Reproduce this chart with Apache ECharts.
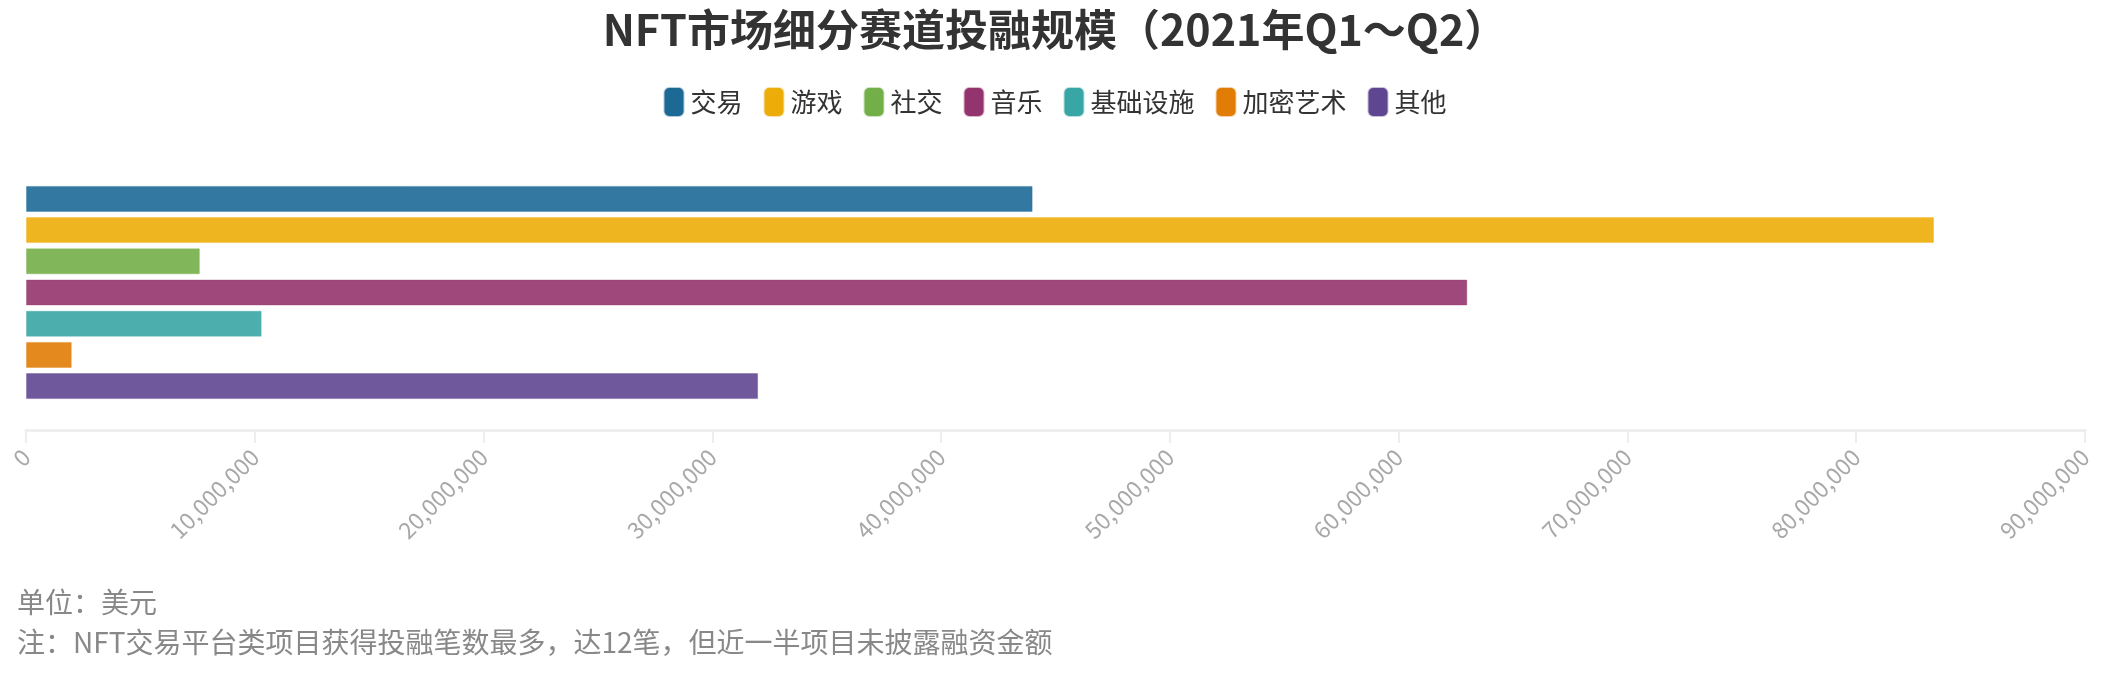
<!DOCTYPE html>
<html>
<head>
<meta charset="utf-8">
<script src="https://cdn.jsdelivr.net/npm/echarts@6/dist/echarts.min.js"></script>
<style>
html,body{margin:0;padding:0;background:#fff;}
#chart{width:2110px;height:699px;}
</style>
</head>
<body>
<div id="chart"></div>
<script>
const titleText = 'NFT市场细分赛道投融规模（2021年Q1～Q2）';
const categories = ['Q1～Q2'];
const seriesNames = ['交易', '游戏', '社交', '音乐', '基础设施', '加密艺术', '其他'];
const seriesValues = [44000000, 83400000, 7600000, 63000000, 10300000, 2000000, 32000000];
const seriesColors = ['#1D6996', '#EDAD08', '#73AF48', '#94346E', '#38A6A5', '#E17C05', '#5F4690'];
const xTicks = [0, 10000000, 20000000, 30000000, 40000000, 50000000, 60000000, 70000000, 80000000, 90000000];
const unitNote = '单位：美元';
const footNote = '注：NFT交易平台类项目获得投融笔数最多，达12笔，但近一半项目未披露融资金额';

function rgba(hex, a) {
  const n = parseInt(hex.slice(1), 16);
  return 'rgba(' + ((n >> 16) & 255) + ',' + ((n >> 8) & 255) + ',' + (n & 255) + ',' + a + ')';
}

const FONT = '"Noto Sans CJK SC", "Noto Sans", sans-serif';
const chart = echarts.init(document.getElementById('chart'), null, {renderer: 'canvas'});

const series = seriesNames.map((name, i) => ({
  name: name,
  type: 'bar',
  data: categories.map(() => seriesValues[i]),
  barWidth: 26,
  barGap: '20%',
  itemStyle: {
    color: rgba(seriesColors[i], 0.9),
    borderColor: rgba(seriesColors[i], 0.35),
    borderWidth: 1
  }
}));

chart.setOption({
  animation: false,
  textStyle: {fontFamily: FONT},
  color: seriesColors,
  title: {
    text: titleText,
    left: 'center',
    top: 3,
    textStyle: {fontSize: 43, fontWeight: 'bold', color: '#333', fontFamily: FONT}
  },
  legend: {
    top: 82,
    left: 'center',
    icon: 'roundRect',
    itemWidth: 19,
    itemHeight: 28,
    itemGap: 21,
    textStyle: {fontSize: 26, color: '#333', fontFamily: FONT, padding: [0, 0, 0, 2]},
    data: seriesNames.map((n, i) => ({name: n, itemStyle: {color: seriesColors[i]}}))
  },
  grid: {left: 26, right: 25, top: 155, bottom: 269, containLabel: false},
  xAxis: {
    type: 'value',
    min: xTicks[0],
    max: xTicks[xTicks.length - 1],
    interval: xTicks[1] - xTicks[0],
    axisLine: {show: true, lineStyle: {color: '#eeeeee', width: 3}},
    axisTick: {show: true, length: 13, lineStyle: {color: '#eeeeee', width: 2}},
    splitLine: {show: false},
    axisLabel: {
      rotate: 45,
      margin: 23,
      fontSize: 23,
      color: '#a8a8a8',
      fontFamily: FONT,
      formatter: v => v.toLocaleString('en-US')
    }
  },
  yAxis: {
    type: 'category',
    data: categories,
    inverse: true,
    axisLine: {show: false},
    axisTick: {show: false},
    axisLabel: {show: false},
    splitLine: {show: false}
  },
  graphic: [
    {type: 'text', left: 17, top: 588, style: {text: unitNote, fontSize: 28, fill: '#888', fontFamily: FONT}},
    {type: 'text', left: 17, top: 628, style: {text: footNote, fontSize: 28, fill: '#888', fontFamily: FONT}}
  ],
  series: series
});
</script>
</body>
</html>
